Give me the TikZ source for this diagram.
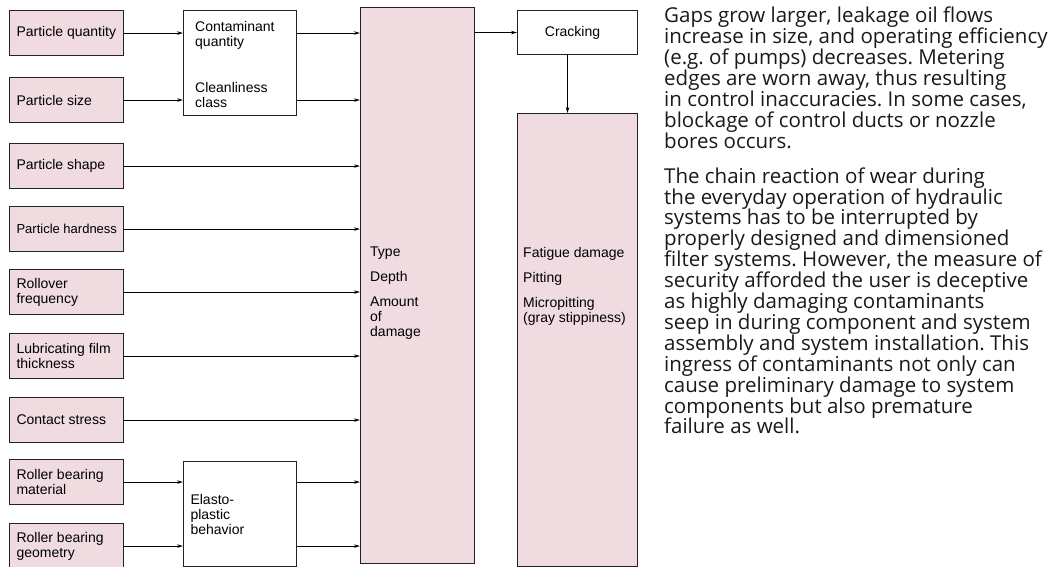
\documentclass[tikz,border=0pt]{standalone}
\usepackage{fontspec}
\setmainfont{Liberation Sans}
\newfontfamily\parafont{Open Sans}
\usetikzlibrary{arrows.meta}
\definecolor{wearpink}{RGB}{240,219,224}
\definecolor{edgegray}{RGB}{35,35,35}
\frenchspacing

\begin{document}
\begin{tikzpicture}[x=1pt,y=-1pt,
  inbox/.style={draw=edgegray,line width=1.1pt,fill=wearpink,anchor=north west,minimum width=114pt,minimum height=45pt,text width=100pt,inner xsep=7pt,align=flush left,font=\fontsize{14}{15}\selectfont},
  midbox/.style={draw=edgegray,line width=1.1pt,anchor=north west,inner sep=0pt},
  lbl/.style={anchor=north west,inner sep=0pt,align=flush left,font=\fontsize{14}{15}\selectfont},
  arr/.style={-{Stealth[length=6pt,width=3.5pt]},line width=0.9pt}]
\useasboundingbox (0,0) rectangle (1050,567);
\node[inbox] (pq) at (9,10) {\mbox{Particle quantity}};
\node[inbox] (ps) at (9,77) {Particle size};
\node[inbox] (psh) at (9,143) {Particle shape};
\node[inbox,font=\fontsize{13}{15}\selectfont] (ph) at (9,206) {\mbox{Particle hardness}};
\node[inbox] (rf) at (9,269) {Rollover\\frequency};
\node[inbox] (lf) at (9,333) {\mbox{Lubricating film}\\thickness};
\node[inbox] (cs) at (9,397) {Contact stress};
\node[inbox] (rm) at (9,459) {\mbox{Roller bearing}\\material};
\node[inbox] (rg) at (9,523) {\mbox{Roller bearing}\\geometry};
\node[midbox,minimum width=113pt,minimum height=105pt] (cq) at (183,10) {};
\node[lbl] (cqtxt) at (195,21) {Contaminant\\quantity};
\node[lbl] (cctxt) at (195,82) {Cleanliness\\class};
\node[midbox,minimum width=113pt,minimum height=105pt,text width=99pt,inner xsep=7pt,align=flush left,font=\fontsize{14}{15}\selectfont] (ep) at (183,461) {Elasto-\\plastic\\behavior};
\node[midbox,fill=wearpink,minimum width=114pt,minimum height=556pt] (dmg) at (360,7) {};
\node[lbl] (dmgtxt) at (370,247) {Type\\[10pt]Depth\\[10pt]Amount\\of\\damage};
\node[midbox,minimum width=120pt,minimum height=44pt] (crk) at (517,10) {};
\node[lbl,anchor=center] (crktxt) at ([xshift=-5pt]crk.center) {Cracking};
\node[midbox,fill=wearpink,minimum width=120pt,minimum height=453pt] (fat) at (517,113) {};
\node[lbl] (fattxt) at (523,247) {Fatigue damage\\[10pt]Pitting\\[10pt]Micropitting\\(gray stippiness)};
\draw[arr] (pq.east) -- (pq.east -| cq.west);
\draw[arr] (ps.east) -- (ps.east -| cq.west);
\draw[arr] (pq.east -| cq.east) -- (pq.east -| dmg.west);
\draw[arr] (ps.east -| cq.east) -- (ps.east -| dmg.west);
\draw[arr] (psh.east) -- (psh.east -| dmg.west);
\draw[arr] (ph.east) -- (ph.east -| dmg.west);
\draw[arr] (rf.east) -- (rf.east -| dmg.west);
\draw[arr] (lf.east) -- (lf.east -| dmg.west);
\draw[arr] (cs.east) -- (cs.east -| dmg.west);
\draw[arr] (rm.east) -- (rm.east -| ep.west);
\draw[arr] (rg.east) -- (rg.east -| ep.west);
\draw[arr] (rm.east -| ep.east) -- (rm.east -| dmg.west);
\draw[arr] (rg.east -| ep.east) -- (rg.east -| dmg.west);
\draw[arr] (crk.west -| dmg.east) -- (crk.west);
\draw[arr] ([xshift=-10pt]crk.south) -- ([xshift=-10pt]crk.south |- fat.north);
\node[anchor=north west,inner sep=0pt,align=left,text=black!90,font=\parafont\fontsize{20.5}{20.9}\selectfont] (para) at (664,7) {Gaps grow larger, leakage oil flows\\
increase in size, and operating efficiency\\
(e.g. of pumps) decreases. Metering\\
edges are worn away, thus resulting\\
in control inaccuracies. In some cases,\\
blockage of control ducts or nozzle\\
bores occurs.\\[14pt]
The chain reaction of wear during\\
the everyday operation of hydraulic\\
systems has to be interrupted by\\
properly designed and dimensioned\\
filter systems. However, the measure of\\
security afforded the user is deceptive\\
as highly damaging contaminants\\
seep in during component and system\\
assembly and system installation. This\\
ingress of contaminants not only can\\
cause preliminary damage to system\\
components but also premature\\
failure as well.};
\end{tikzpicture}
\end{document}
